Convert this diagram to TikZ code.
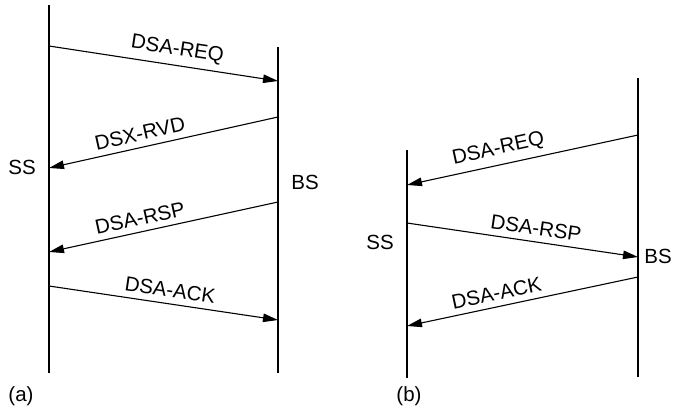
\documentclass[tikz,border=0pt]{standalone}
\usepackage{fontspec}
\setmainfont{Liberation Sans}
\usetikzlibrary{arrows.meta}
\begin{document}
\begin{tikzpicture}[x=1pt,y=-1pt,
  lifeline/.style={line width=1.2pt},
  msg/.style={line width=1.1pt,-{Triangle[length=15pt,width=8.5pt]}},
  msglabel/.style={font=\fontsize{20.5}{24}\selectfont,sloped,above,inner sep=6pt},
  tag/.style={font=\fontsize{20.5}{24}\selectfont,inner sep=0pt}]
\useasboundingbox (0,0) rectangle (675,415);

% ---- (a) ----
\coordinate (aSStop) at (49,5);   \coordinate (aSSbot) at (49,373);
\coordinate (aBStop) at (278,47); \coordinate (aBSbot) at (278,373);
\draw[lifeline] (aSStop) -- (aSSbot);
\draw[lifeline] (aBStop) -- (aBSbot);

\coordinate (a1s) at (49,46);   \coordinate (a1e) at (278,81);
\coordinate (a2s) at (278,117); \coordinate (a2e) at (49,168);
\coordinate (a3s) at (278,202); \coordinate (a3e) at (49,252);
\coordinate (a4s) at (49,286);  \coordinate (a4e) at (278,320);

\draw[msg] (a1s) -- node[msglabel,pos=0.55] (la1) {DSA-REQ} (a1e);
\draw[msg] (a2s) -- node[msglabel,pos=0.59] (la2) {DSX-RVD} (a2e);
\draw[msg] (a3s) -- node[msglabel,pos=0.59] (la3) {DSA-RSP} (a3e);
\draw[msg] (a4s) -- node[msglabel,pos=0.52] (la4) {DSA-ACK} (a4e);

\node[tag] (aSS) at (22,167) {SS};
\node[tag] (aBS) at (305,182) {BS};
\node[tag] (acap) at (21,396) {(a)};

% ---- (b) ----
\coordinate (bSStop) at (407,150); \coordinate (bSSbot) at (407,378);
\coordinate (bBStop) at (638,78);  \coordinate (bBSbot) at (638,377);
\draw[lifeline] (bSStop) -- (bSSbot);
\draw[lifeline] (bBStop) -- (bBSbot);

\coordinate (b1s) at (638,135); \coordinate (b1e) at (407,185);
\coordinate (b2s) at (407,223); \coordinate (b2e) at (638,257);
\coordinate (b3s) at (638,277); \coordinate (b3e) at (407,326);

\draw[msg] (b1s) -- node[msglabel,pos=0.59] (lb1) {DSA-REQ} (b1e);
\draw[msg] (b2s) -- node[msglabel,pos=0.55] (lb2) {DSA-RSP} (b2e);
\draw[msg] (b3s) -- node[msglabel,pos=0.60] (lb3) {DSA-ACK} (b3e);

\node[tag] (bSS) at (380,242) {SS};
\node[tag] (bBS) at (658,256) {BS};
\node[tag] (bcap) at (409,396) {(b)};
\end{tikzpicture}
\end{document}
